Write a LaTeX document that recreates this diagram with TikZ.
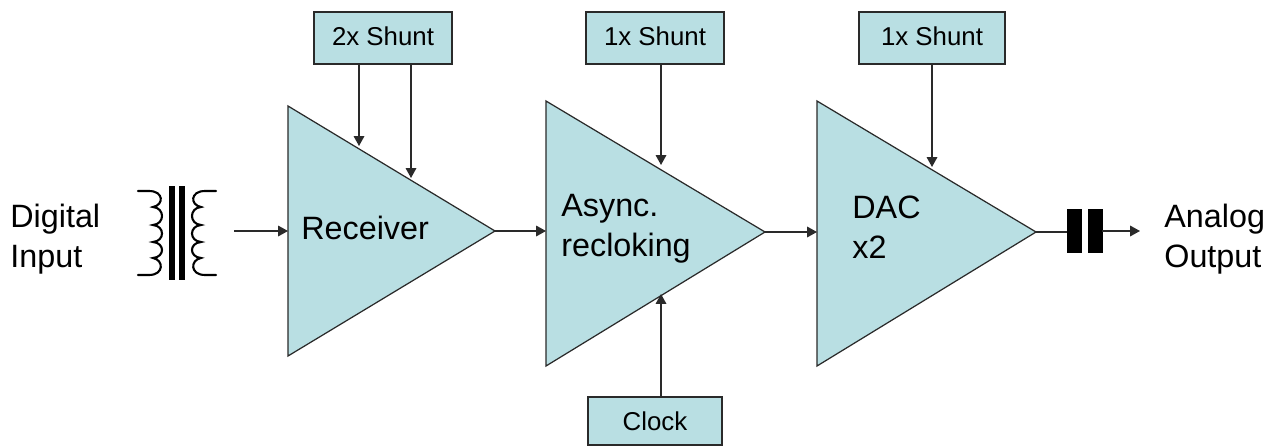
\documentclass[tikz,border=0pt]{standalone}
\usepackage{fontspec}
\setmainfont{Liberation Sans}
\usetikzlibrary{arrows.meta}
\definecolor{ampfill}{HTML}{B9DFE3}
\definecolor{linegray}{HTML}{2A2A2A}
\tikzset{
  amp/.style={draw=linegray,fill=ampfill,line width=0.7pt,line join=miter},
  tagbox/.style={draw=linegray,fill=ampfill,line width=0.7pt,inner sep=0pt,font=\fontsize{14.7}{18}\selectfont},
  biglabel/.style={anchor=west,align=left,inner sep=0pt,font=\fontsize{18.4}{22.7}\selectfont},
  capplate/.style={fill=black,draw=black,inner sep=0pt,minimum width=0.28cm,minimum height=0.86cm},
  wire/.style={draw=linegray,line width=0.7pt},
  core/.style={fill=black,draw=none},
  coil/.style={draw=black,line width=1.2pt,line cap=round},
  >={Triangle[length=5.6pt,width=6pt]}
}
\begin{document}
\begin{tikzpicture}[x=0.02cm,y=-0.02cm]
\useasboundingbox (0,0) rectangle (1277,446);
% amplifier triangles
\draw [amp] (288,106) -- (495,231) -- (288,356) -- cycle;
\draw [amp] (546,101) -- (765,232) -- (546,366) -- cycle;
\draw [amp] (817,101) -- (1036,232) -- (817,366) -- cycle;
\coordinate (rxin) at (288,231); \coordinate (rxout) at (495,231);
\coordinate (asyncin) at (546,231); \coordinate (asyncout) at (765,232);
\coordinate (dacin) at (817,232); \coordinate (dacout) at (1036,232);
\coordinate (rxtopa) at (359,146); \coordinate (rxtopb) at (411,178);
\coordinate (asynctop) at (661,165); \coordinate (asyncbot) at (661,294);
\coordinate (dactop) at (932,167);
% labels
\node [biglabel] (rxlabel) at (301,228) {Receiver};
\node [biglabel] (asynclabel) at (561,229) {Async.\\recloking};
\node [biglabel] (daclabel) at (852,227) {DAC\\x2};
\node [biglabel] (inlabel) at (10,239) {Digital\\Input};
\node [biglabel] (outlabel) at (1164,239) {Analog\\Output};
% boxes
\node [tagbox,minimum width=2.76cm,minimum height=1.04cm,text depth=3pt,text height=12pt] (shuntrx) at (383,38) {2x Shunt};
\node [tagbox,minimum width=2.76cm,minimum height=1.04cm,text depth=3pt,text height=12pt] (shuntasync) at (655,38) {1x Shunt};
\node [tagbox,minimum width=2.92cm,minimum height=1.04cm,text depth=3pt,text height=12pt] (shuntdac) at (932,38) {1x Shunt};
\node [tagbox,minimum width=2.68cm,minimum height=0.96cm] (clock) at (655,421) {Clock};
% transformer
\fill [core] (169,186) rectangle (175,280);
\fill [core] (179,186) rectangle (185,280);
\foreach \side/\sgn in {138/1,216/-1}{
  \draw [coil,x=\sgn*0.02cm] (\sgn*\side,191) -- ++(11,0)
    .. controls +(15,0) and +(11,-2) .. ++(4,16)
    .. controls +(12,1) and +(12,-1) .. ++(0,18)
    .. controls +(12,1) and +(12,-1) .. ++(0,17)
    .. controls +(12,1) and +(12,-1) .. ++(0,16)
    .. controls +(11,2) and +(15,0) .. ++(-4,17) -- ++(-11,0);
}
% capacitor
\node [capplate] (capa) at (1074.5,231) {};
\node [capplate] (capb) at (1095,231) {};
% connectors
\coordinate (xfmrout) at (234,231); \coordinate (outend) at (1140,231);
\draw [wire,->] (xfmrout) -- (rxin);
\draw [wire,->] (rxout) -- (asyncin);
\draw [wire,->] (asyncout) -- (dacin);
\draw [wire] (dacout) -- (capa.west |- dacout);
\draw [wire,->] (capb.east) -- (outend);
\draw [wire,->] (rxtopa |- shuntrx.south) -- (rxtopa);
\draw [wire,->] (rxtopb |- shuntrx.south) -- (rxtopb);
\draw [wire,->] (asynctop |- shuntasync.south) -- (asynctop);
\draw [wire,->] (dactop |- shuntdac.south) -- (dactop);
\draw [wire,->] (asyncbot |- clock.north) -- (asyncbot);
\end{tikzpicture}
\end{document}
